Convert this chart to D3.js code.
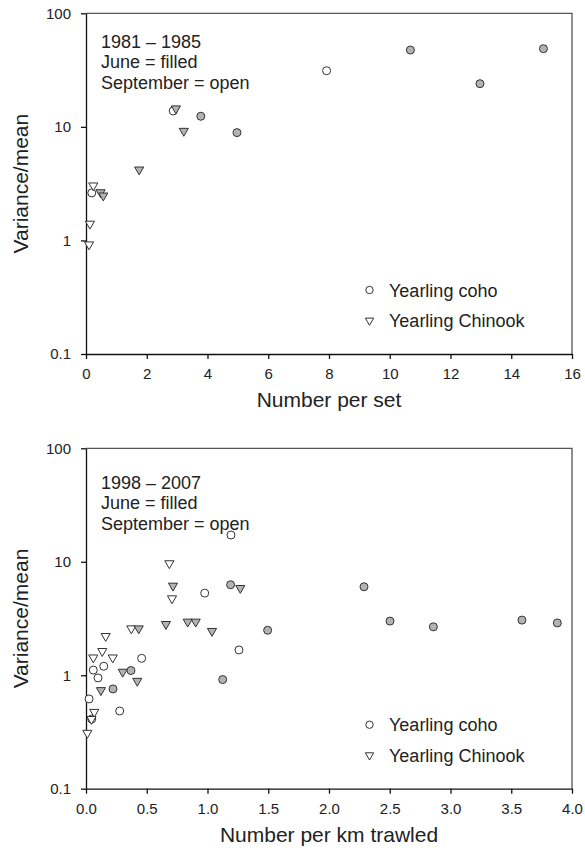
<!DOCTYPE html>
<html>
<head>
<meta charset="utf-8">
<script src="https://cdn.jsdelivr.net/npm/d3@7"></script>
<style>
  body { margin: 0; background: #fff; }
  text { font-family: "Liberation Sans", Arial, sans-serif; fill: #222; }
</style>
</head>
<body>
<div id="chart"></div>
<script>
// values, [x, variance/mean]
// 1981 - 1985, number per set
var cohoJune81 = [[3.78, 12.4], [4.97, 8.9], [10.68, 47.5], [12.97, 24.0], [15.06, 48.8]];
var cohoSept81 = [[2.87, 13.8], [0.19, 2.62], [7.92, 31.2]];
var chinJune81 = [[2.96, 14.5], [3.22, 9.2], [1.75, 4.2], [0.48, 2.65], [0.57, 2.48]];
var chinSept81 = [[0.24, 3.04], [0.13, 1.40], [0.10, 0.92]];

// 1998 - 2007, number per km trawled
var cohoJune98 = [[1.19, 6.27], [1.495, 2.49], [0.37, 1.10], [1.125, 0.916], [0.222, 0.757],
  [2.288, 6.02], [2.502, 3.0], [2.859, 2.67], [3.588, 3.06], [3.879, 2.89]];
var cohoSept98 = [[1.193, 17.2], [0.977, 5.29], [1.259, 1.67], [0.458, 1.41], [0.146, 1.20],
  [0.06, 1.11], [0.099, 0.947], [0.025, 0.618], [0.277, 0.484], [0.047, 0.411]];
var chinJune98 = [[0.716, 6.14], [1.27, 5.86], [0.658, 2.82], [0.837, 2.96], [0.903, 2.96],
  [1.037, 2.45], [0.434, 2.58], [0.302, 1.07], [0.422, 0.89], [0.123, 0.737]];
var chinSept98 = [[0.686, 9.68], [0.708, 4.75], [0.373, 2.58], [0.162, 2.21], [0.134, 1.63],
  [0.06, 1.43], [0.22, 1.43], [0.068, 0.474], [0.045, 0.41], [0.011, 0.31]];

var yTicks = [0.1, 1, 10, 100];
var yTickLabels = ["0.1", "1", "10", "100"];
var xTicksTop = [0, 2, 4, 6, 8, 10, 12, 14, 16];
var xTicksBottom = [0, 0.5, 1, 1.5, 2, 2.5, 3, 3.5, 4];
var legendLabels = ["Yearling coho", "Yearling Chinook"];

var svgWidth = 585;
var svgHeight = 851;

var svg = d3.select("#chart")
  .append("svg")
  .attr("width", svgWidth)
  .attr("height", svgHeight);

var left = 86, right = 572;
var triangle = d3.symbol().type(d3.symbolTriangle).size(36);

function drawPanel(p) {
  var x = d3.scaleLinear().domain(p.xDomain).range([left, right]);
  var y = d3.scaleLog().domain([0.1, 100]).range([p.bottom, p.top]);

  // frame top / right
  svg.append("path")
    .attr("d", `M${left},${p.top}H${right}V${p.bottom}`)
    .attr("fill", "none")
    .attr("stroke", "#555")
    .attr("stroke-width", 1.3);

  var xAxis = svg.append("g")
    .attr("transform", `translate(0, ${p.bottom})`)
    .call(d3.axisBottom(x).tickValues(p.xTicks).tickFormat(p.xFormat)
      .tickSize(5).tickSizeOuter(0).tickPadding(9.5));
  var yAxis = svg.append("g")
    .attr("transform", `translate(${left}, 0)`)
    .call(d3.axisLeft(y).tickValues(yTicks).tickFormat((d, i) => yTickLabels[i])
      .tickSize(5).tickSizeOuter(0).tickPadding(10));

  [xAxis, yAxis].forEach(function(a) {
    a.selectAll("path, line").attr("stroke", "#111").attr("stroke-width", 1.3);
    a.selectAll("text").attr("font-size", "15px").attr("font-family", null).attr("fill", "#222");
  });

  // axis titles
  svg.append("text")
    .attr("x", (left + right) / 2)
    .attr("y", p.bottom + 53)
    .attr("text-anchor", "middle")
    .attr("font-size", "21px")
    .text(p.xTitle);

  svg.append("text")
    .attr("transform", `translate(28, ${(p.top + p.bottom) / 2}) rotate(-90)`)
    .attr("text-anchor", "middle")
    .attr("font-size", "21px")
    .text("Variance/mean");

  // annotation
  p.note.forEach(function(t, i) {
    svg.append("text")
      .attr("x", 101)
      .attr("y", p.noteY + i * 20.8)
      .attr("font-size", "18px")
      .text(t);
  });

  // points
  var g = svg.append("g");
  function circles(data, fill) {
    g.selectAll(null).data(data).enter().append("circle")
      .attr("cx", d => x(d[0]))
      .attr("cy", d => y(d[1]))
      .attr("r", 4)
      .attr("fill", fill)
      .attr("stroke", "#333")
      .attr("stroke-width", 1);
  }
  function triangles(data, fill) {
    g.selectAll(null).data(data).enter().append("path")
      .attr("d", triangle)
      .attr("transform", d => `translate(${x(d[0])}, ${y(d[1])}) rotate(180)`)
      .attr("fill", fill)
      .attr("stroke", "#333")
      .attr("stroke-width", 1);
  }
  circles(p.cohoSept, "#fff");
  circles(p.cohoJune, "#b3b3b3");
  triangles(p.chinSept, "#fff");
  triangles(p.chinJune, "#b3b3b3");

  // legend
  var ly = p.bottom - 64;
  svg.append("circle")
    .attr("cx", 369.5).attr("cy", ly).attr("r", 3.7)
    .attr("fill", "#fff").attr("stroke", "#333");
  svg.append("path")
    .attr("d", d3.symbol().type(d3.symbolTriangle).size(30)())
    .attr("transform", `translate(369.5, ${ly + 30.5}) rotate(180)`)
    .attr("fill", "#fff").attr("stroke", "#333");
  legendLabels.forEach(function(t, i) {
    svg.append("text")
      .attr("x", 389)
      .attr("y", ly + 6.5 + i * 30.5)
      .attr("font-size", "18px")
      .text(t);
  });
}

drawPanel({
  top: 13.3, bottom: 354,
  xDomain: [0, 16], xTicks: xTicksTop, xFormat: d3.format("d"),
  xTitle: "Number per set",
  note: ["1981 \u2013 1985", "June = filled", "September = open"], noteY: 47.5,
  cohoJune: cohoJune81, cohoSept: cohoSept81, chinJune: chinJune81, chinSept: chinSept81
});

drawPanel({
  top: 448.3, bottom: 788.7,
  xDomain: [0, 4], xTicks: xTicksBottom, xFormat: d3.format(".1f"),
  xTitle: "Number per km trawled",
  note: ["1998 \u2013 2007", "June = filled", "September = open"], noteY: 488.5,
  cohoJune: cohoJune98, cohoSept: cohoSept98, chinJune: chinJune98, chinSept: chinSept98
});
</script>
</body>
</html>
